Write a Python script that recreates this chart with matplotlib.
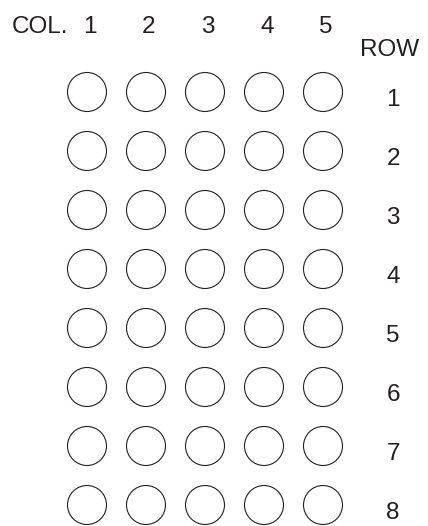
import matplotlib
matplotlib.use("Agg")
import matplotlib.pyplot as plt
from matplotlib.patches import Circle

columns = [1, 2, 3, 4, 5]
rows = [1, 2, 3, 4, 5, 6, 7, 8]
col_labels = ["1", "2", "3", "4", "5"]
row_labels = ["1", "2", "3", "4", "5", "6", "7", "8"]

W, H = 428, 526
fig = plt.figure(figsize=(W / 100, H / 100), dpi=100)
ax = fig.add_axes([0, 0, 1, 1])
ax.set_axis_off()

# one unit = 59 px; column 1 center at x=87px, row 1 center at y=92px
unit = 59.0
x0 = 1 - 87 / unit
y0 = 1 - 92 / unit
ax.set_xlim(x0, x0 + W / unit)
ax.set_ylim(y0 + H / unit, y0)

font = dict(family=["Liberation Sans", "DejaVu Sans"], fontsize=17.5, color="#231f20")

r = 19.5 / unit
for rv in rows:
    for cv in columns:
        ax.add_patch(Circle((cv, rv), r, fill=False, edgecolor="#231f20", linewidth=0.8))

px = 1 / unit
# column header
ax.text(x0 + 12 * px, y0 + 33 * px, "COL.", ha="left", va="baseline", **font)
for cv, lab in zip(columns, col_labels):
    ax.text(cv + 3 * px, y0 + 33 * px, lab, ha="center", va="baseline", **font)

# row header and labels
ax.text(x0 + 390 * px, y0 + 56 * px, "ROW", ha="center", va="baseline", **font)
for rv, lab in zip(rows, row_labels):
    ax.text(x0 + 393 * px, rv + 14 * px, lab, ha="center", va="baseline", **font)

fig.savefig("out.png", dpi=100, facecolor="white")
